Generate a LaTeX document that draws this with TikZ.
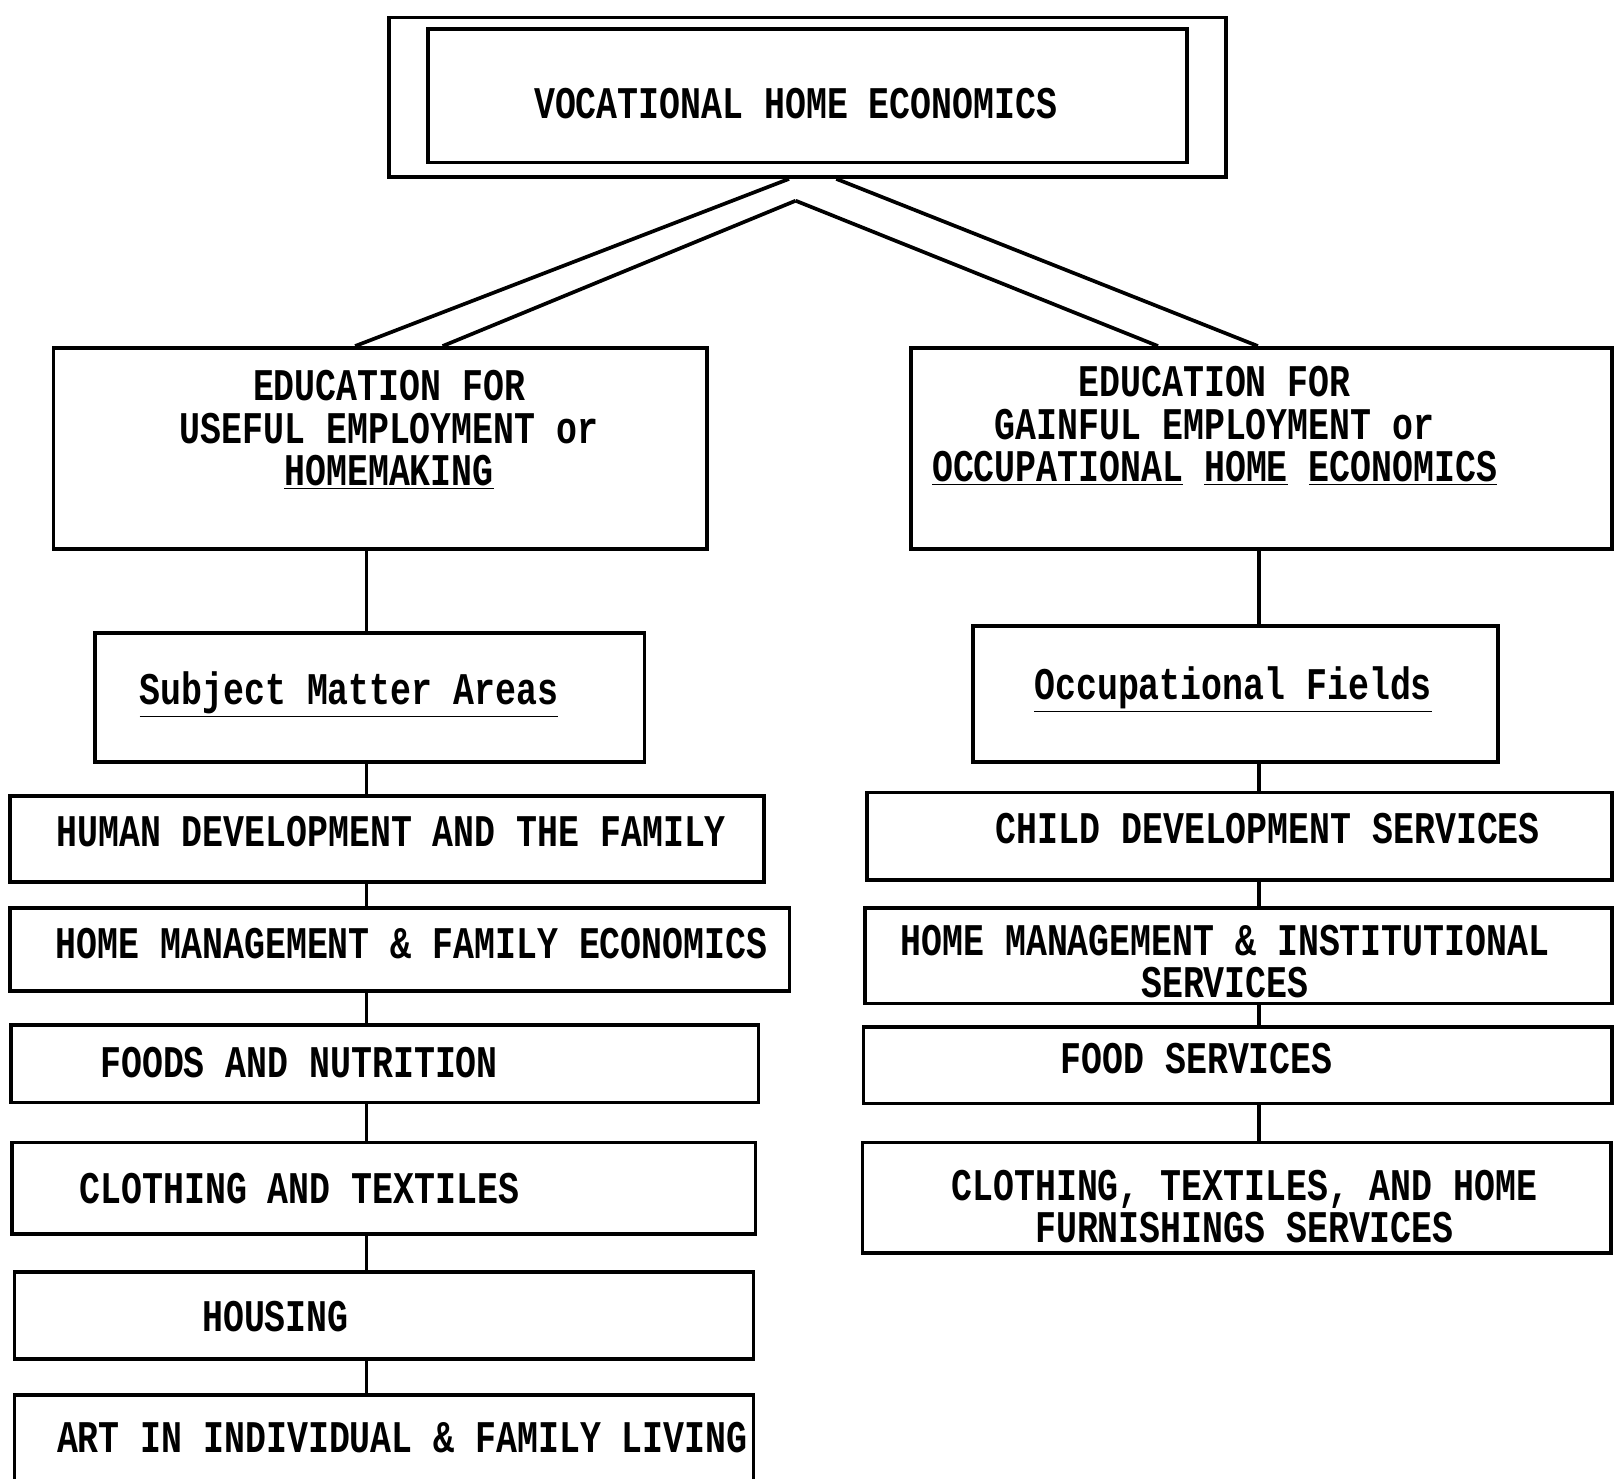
\documentclass[tikz,border=0pt]{standalone}
\usepackage{fontspec}
\newfontfamily\typewr[FakeStretch=0.77]{Liberation Mono}
\usepackage{tikz}

\tikzset{
  box/.style={draw, rectangle, line width=1.8pt, inner sep=0pt},
  txt/.style={font=\typewr\bfseries\fontsize{22pt}{20.5pt}\selectfont, align=center, inner sep=0pt},
  link/.style={line width=1.8pt}
}

\begin{document}
\begin{tikzpicture}[x=0.5pt,y=-0.5pt]
\useasboundingbox (0,0) rectangle (1568,1436);

% top box, double frame
\node[box, minimum width=406.5pt, minimum height=77.5pt] (vheframe) at (784.5,94.5) {};
\node[box, minimum width=368.5pt, minimum height=65pt] (vhe) at (784.5,93) {};
\node[txt] (vhetext) at (773,101) {VOCATIONAL HOME ECONOMICS};

% the two branches
\node[box, minimum width=317.5pt, minimum height=97.5pt] (useful) at (369.5,435.5) {};
\node[txt] (usefultext) at (378,418) {EDUCATION FOR\\USEFUL EMPLOYMENT or\\\underline{HOMEMAKING}};
\node[box, minimum width=340.5pt, minimum height=97.5pt] (gainful) at (1225.5,435.5) {};
\node[txt] (gainfultext) at (1180,414) {EDUCATION FOR\\GAINFUL EMPLOYMENT or\\\underline{OCCUPATIONAL} \underline{HOME} \underline{ECONOMICS}};

\coordinate (apex) at (773,195);
\draw[link] ([xshift=-9pt]vheframe.south) -- ([xshift=-12.25pt]useful.north);
\draw[link] (apex) -- ([xshift=30.25pt]useful.north);
\draw[link] (apex) -- ([xshift=-50.25pt]gainful.north);
\draw[link] ([xshift=14pt]vheframe.south) -- ([xshift=-1.75pt]gainful.north);

% subject matter areas
\node[box, minimum width=267pt, minimum height=62.5pt] (subject) at (359,677.5) {};
\node[txt] (subjecttext) at (339,675) {\underline{Subject Matter Areas}};
\node[box, minimum width=366pt, minimum height=42pt] (human) at (376,815) {};
\node[txt] (humantext) at (380,808) {HUMAN DEVELOPMENT AND THE FAMILY};
\node[box, minimum width=378.5pt, minimum height=40.5pt] (homemgmt) at (388.5,922.5) {};
\node[txt] (homemgmttext) at (400,917) {HOME MANAGEMENT \& FAMILY ECONOMICS};
\node[box, minimum width=363pt, minimum height=37.5pt] (foods) at (374,1033.5) {};
\node[txt, anchor=west] (foodstext) at (97,1032) {FOODS AND NUTRITION};
\node[box, minimum width=361pt, minimum height=44.5pt] (clothing) at (373,1154.5) {};
\node[txt, anchor=west] (clothingtext) at (77,1155) {CLOTHING AND TEXTILES};
\node[box, minimum width=359pt, minimum height=42pt] (housing) at (373,1278) {};
\node[txt, anchor=west] (housingtext) at (196,1279) {HOUSING};
\node[box, minimum width=359pt, minimum height=52.5pt] (art) at (373,1407.5) {};
\node[txt, anchor=west] (arttext) at (55,1397) {ART IN INDIVIDUAL \& FAMILY LIVING};

% occupational fields
\node[box, minimum width=255pt, minimum height=66pt] (fields) at (1200,674) {};
\node[txt] (fieldstext) at (1198,670) {\underline{Occupational Fields}};
\node[box, minimum width=362pt, minimum height=42.5pt] (child) at (1204,812.5) {};
\node[txt, anchor=west] (childtext) at (967,805) {CHILD DEVELOPMENT SERVICES};
\node[box, minimum width=363pt, minimum height=46.5pt] (inst) at (1203,928.5) {};
\node[txt] (insttext) at (1190,934) {HOME MANAGEMENT \& INSTITUTIONAL\\SERVICES};
\node[box, minimum width=363.5pt, minimum height=37pt] (foodsvc) at (1202.5,1035) {};
\node[txt, anchor=west] (foodsvctext) at (1030,1028) {FOOD SERVICES};
\node[box, minimum width=363.5pt, minimum height=53.5pt] (clothsvc) at (1201.5,1163.5) {};
\node[txt] (clothsvctext) at (1209,1172) {CLOTHING, TEXTILES, AND HOME\\FURNISHINGS SERVICES};

% vertical connectors
\coordinate (lspine) at (356,0);
\coordinate (rspine) at (1223,0);
\draw[link] (useful.south -| lspine) -- (subject.north -| lspine);
\draw[link] (subject.south -| lspine) -- (human.north -| lspine);
\draw[link] (human.south -| lspine) -- (homemgmt.north -| lspine);
\draw[link] (homemgmt.south -| lspine) -- (foods.north -| lspine);
\draw[link] (foods.south -| lspine) -- (clothing.north -| lspine);
\draw[link] (clothing.south -| lspine) -- (housing.north -| lspine);
\draw[link] (housing.south -| lspine) -- (art.north -| lspine);
\draw[link] (gainful.south -| rspine) -- (fields.north -| rspine);
\draw[link] (fields.south -| rspine) -- (child.north -| rspine);
\draw[link] (child.south -| rspine) -- (inst.north -| rspine);
\draw[link] (inst.south -| rspine) -- (foodsvc.north -| rspine);
\draw[link] (foodsvc.south -| rspine) -- (clothsvc.north -| rspine);
\end{tikzpicture}
\end{document}
